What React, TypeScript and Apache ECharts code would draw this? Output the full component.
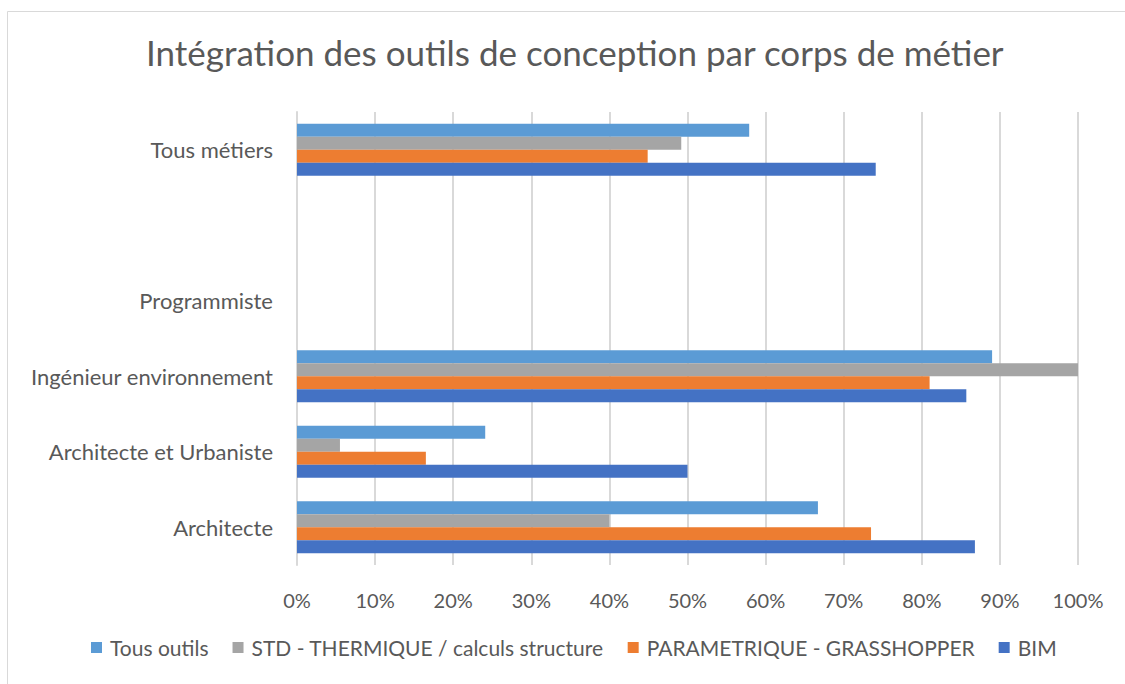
import React, { useEffect, useRef } from "react";
import * as echarts from "echarts";

const categories = ["Architecte", "Architecte et Urbaniste", "Ingénieur environnement", "Programmiste", "", "Tous métiers"];
const seriesNames = ["Tous outils", "STD - THERMIQUE / calculs structure", "PARAMETRIQUE - GRASSHOPPER", "BIM"];
const tousOutils = [66.7, 24.1, 89.0, null, null, 57.9];
const stdThermique = [40.0, 5.5, 100.0, null, null, 49.2];
const parametrique = [73.5, 16.5, 81.0, null, null, 44.9];
const bim = [86.8, 50.0, 85.7, null, null, 74.1];
const seriesValues = [tousOutils, stdThermique, parametrique, bim];
const colors = ["#5B9BD5", "#A5A5A5", "#ED7D31", "#4472C4"];

const FONT = "Lato";
const TEXT = "#595959";

export default function App() {
  const ref = useRef<HTMLDivElement>(null);
  useEffect(() => {
    if (!ref.current) return;
    const chart = echarts.init(ref.current, null, { renderer: "svg" });
    chart.setOption({
      animation: false,
      backgroundColor: "#ffffff",
      textStyle: { fontFamily: FONT },
      title: {
        text: "Intégration des outils de conception par corps de métier",
        left: 146,
        top: 34,
        padding: 0,
        textStyle: { fontFamily: FONT, fontSize: 35, fontWeight: "normal", color: TEXT },
      },
      graphic: [
        {
          type: "rect",
          shape: { x: 7.5, y: 11.5, width: 1130, height: 700 },
          style: { fill: "none", stroke: "#d9d9d9", lineWidth: 1 },
          silent: true,
        },
      ],
      legend: {
        bottom: 21,
        left: 86,
        icon: "rect",
        itemWidth: 11,
        itemHeight: 11,
        itemGap: 24,
        data: seriesNames,
        textStyle: { fontFamily: FONT, fontSize: 21, color: TEXT, padding: [0, 0, 0, 3] },
      },
      grid: { left: 297, right: 47, top: 112, height: 453, containLabel: false },
      xAxis: {
        type: "value",
        min: 0,
        max: 100,
        interval: 10,
        axisLine: { show: false },
        axisTick: { show: false },
        axisLabel: { formatter: "{value}%", fontFamily: FONT, fontSize: 20, color: TEXT, margin: 25 },
        splitLine: { show: true, lineStyle: { color: "#d9d9d9", width: 2 } },
      },
      yAxis: {
        type: "category",
        data: categories,
        axisLine: { show: true, lineStyle: { color: "#d9d9d9", width: 2 } },
        axisTick: { show: false },
        axisLabel: { fontFamily: FONT, fontSize: 22, color: TEXT, margin: 24 },
      },
      series: seriesNames.map((name, i) => ({
        name,
        type: "bar",
        data: seriesValues[i],
        itemStyle: { color: colors[i] },
        barGap: "0%",
        barCategoryGap: "31%",
      })),
    });
    return () => chart.dispose();
  }, []);
  return <div ref={ref} style={{ position: "fixed", left: 0, top: 0, width: 1125, height: 684 }} />;
}
